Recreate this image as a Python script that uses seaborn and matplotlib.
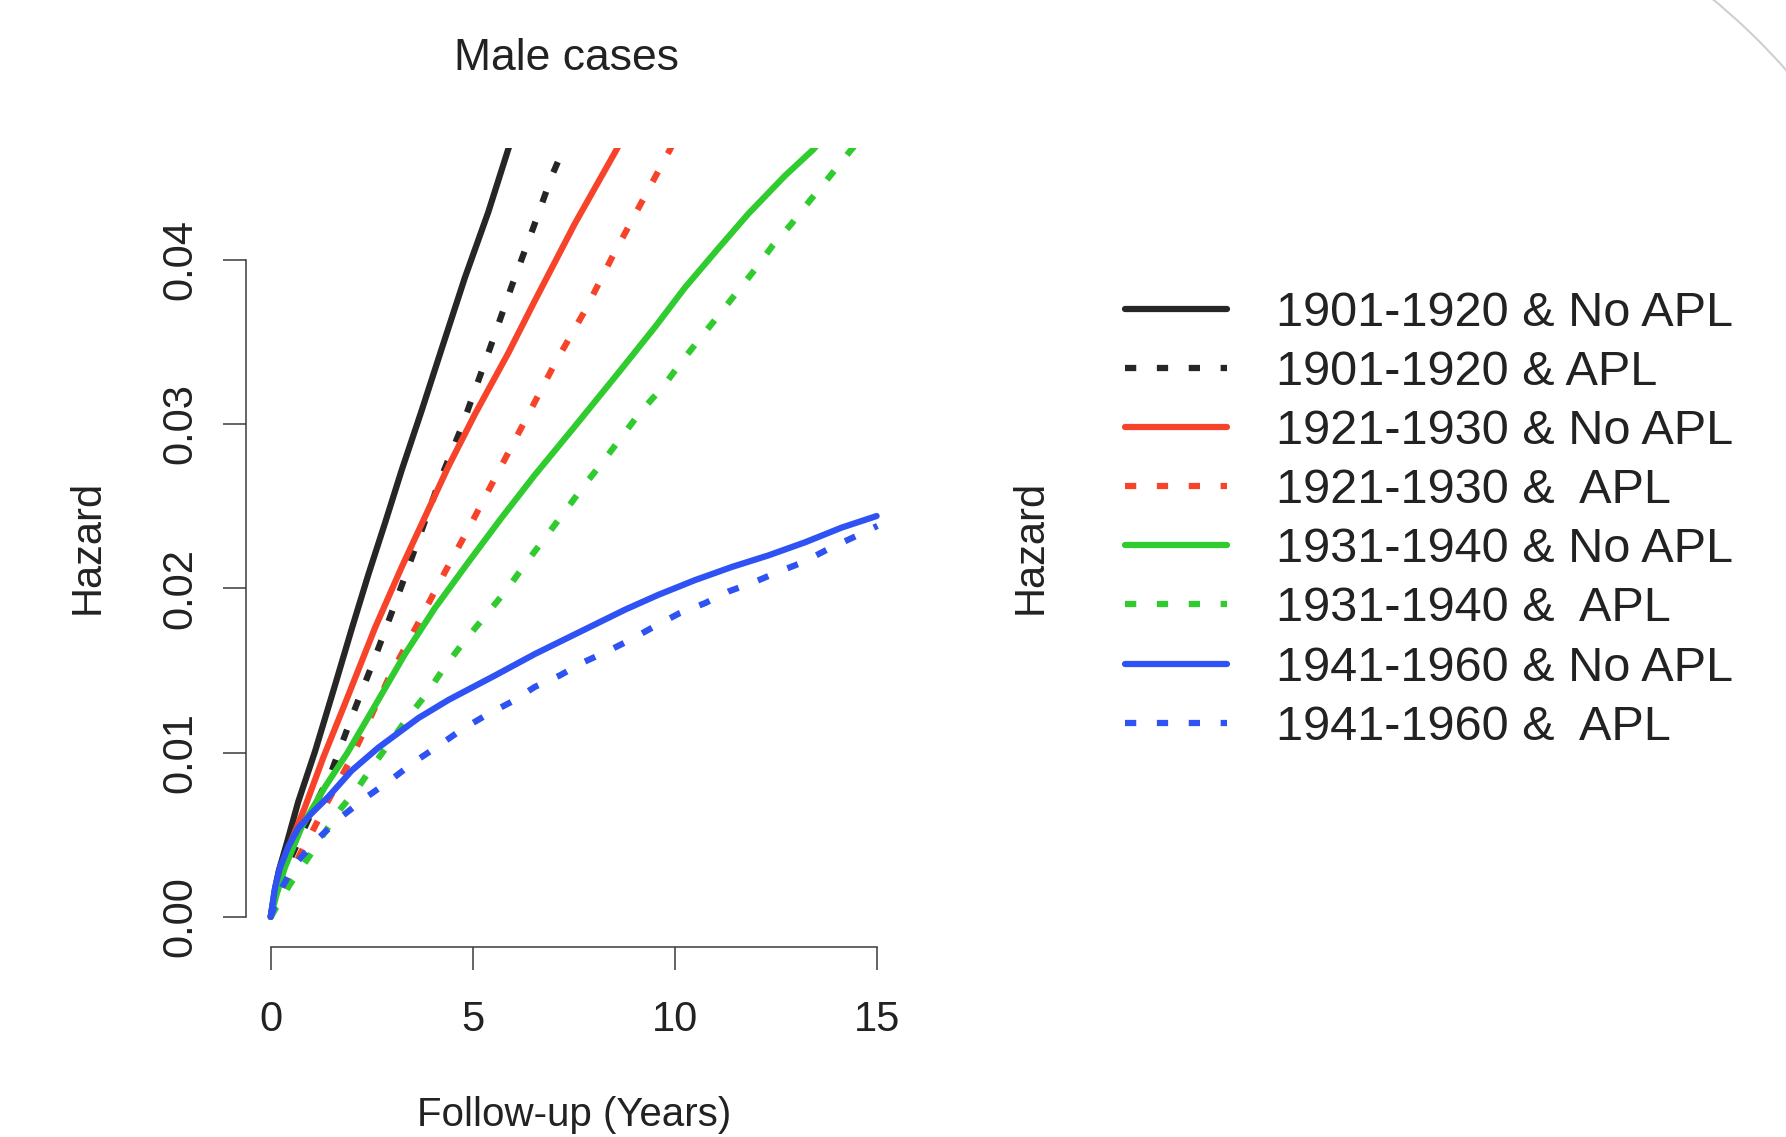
import matplotlib
matplotlib.use("Agg")
import matplotlib.pyplot as plt
from matplotlib.patches import Arc
import seaborn as sns

# cumulative hazard curves (years, hazard)
t_1901_no = [0, 0.1, 0.2, 0.4, 0.68, 1.1, 1.59, 2.0, 2.41, 2.83, 3.24, 3.73, 4.23, 4.8, 5.38, 5.87, 6.1]
h_1901_no = [0, 0.0016, 0.0028, 0.0045, 0.0070, 0.0101, 0.0141, 0.0175, 0.0208, 0.0240, 0.0272, 0.0308,
             0.0346, 0.0389, 0.0429, 0.0467, 0.0484]

t_1901_apl = [0, 0.2, 0.5, 1.0, 1.51, 2.04, 2.58, 3.11, 3.61, 4.14, 4.72, 5.42, 5.96, 6.5, 6.95, 7.23, 7.5]
h_1901_apl = [0, 0.0017, 0.0036, 0.0063, 0.0089, 0.0124, 0.0158, 0.0193, 0.0227, 0.0263, 0.0298, 0.0346,
              0.0384, 0.0420, 0.0451, 0.0467, 0.0485]

t_1921_no = [0, 0.2, 0.52, 0.85, 1.3, 1.84, 2.58, 3.24, 3.9, 4.39, 5.05, 5.87, 6.53, 7.52, 8.55, 8.8]
h_1921_no = [0, 0.0025, 0.0047, 0.0067, 0.0097, 0.0130, 0.0176, 0.0213, 0.0248, 0.0274, 0.0306, 0.0343,
             0.0375, 0.0422, 0.0467, 0.0479]

t_1921_apl = [0, 0.35, 0.72, 1.01, 1.34, 1.96, 2.29, 2.91, 3.65, 4.31, 4.97, 5.67, 6.33, 7.03, 7.77, 8.43,
              9.17, 9.87, 10.1]
h_1921_apl = [0, 0.0017, 0.0038, 0.0051, 0.0067, 0.0095, 0.0112, 0.0145, 0.0179, 0.0210, 0.0240, 0.0273,
              0.0304, 0.0337, 0.0369, 0.0401, 0.0435, 0.0467, 0.0478]

t_1931_no = [0, 0.15, 0.35, 0.77, 1.34, 1.9, 2.66, 3.32, 4.06, 4.89, 5.71, 6.53, 7.5, 8.59, 9.5, 10.24,
             11.07, 11.81, 12.71, 13.41, 13.7]
h_1931_no = [0, 0.0014, 0.0030, 0.0055, 0.0079, 0.0100, 0.0132, 0.0160, 0.0188, 0.0216, 0.0243, 0.0269,
             0.0298, 0.0331, 0.0359, 0.0383, 0.0407, 0.0428, 0.0451, 0.0467, 0.0475]

t_1931_apl = [0, 0.48, 0.93, 1.30, 1.67, 2.17, 2.50, 3.38, 3.86, 4.27, 4.76, 5.30, 5.83, 6.33, 6.82, 7.28,
              7.73, 8.18, 8.64, 9.13, 9.71, 10.16, 10.61, 11.07, 11.52, 11.97, 12.39, 12.88, 13.33, 13.83,
              14.32, 14.6]
h_1931_apl = [0, 0.0020, 0.0036, 0.0050, 0.0064, 0.0079, 0.0091, 0.0121, 0.0136, 0.0151, 0.0167, 0.0183,
              0.0199, 0.0216, 0.0232, 0.0247, 0.0262, 0.0276, 0.0291, 0.0307, 0.0323, 0.0338, 0.0352,
              0.0366, 0.0380, 0.0394, 0.0408, 0.0422, 0.0436, 0.0451, 0.0466, 0.0474]

t_1941_no = [0, 0.11, 0.23, 0.44, 0.68, 1.01, 1.42, 2.0, 2.66, 2.99, 3.65, 4.39, 5.55, 6.53, 7.52, 8.76,
             9.58, 10.49, 11.40, 12.30, 13.21, 14.12, 14.98]
h_1941_no = [0, 0.0018, 0.0030, 0.0043, 0.0054, 0.0063, 0.0073, 0.0089, 0.0103, 0.0109, 0.0121, 0.0132,
             0.0147, 0.0160, 0.0172, 0.0187, 0.0196, 0.0205, 0.0213, 0.0220, 0.0228, 0.0237, 0.0244]

t_1941_apl = [0, 0.19, 0.60, 1.14, 1.75, 2.37, 2.95, 3.53, 4.14, 4.72, 5.34, 5.96, 6.53, 7.15, 7.73, 8.35,
              8.92, 9.50, 10.12, 10.74, 11.31, 11.97, 12.55, 13.17, 13.79, 14.49, 15.0]
h_1941_apl = [0, 0.0014, 0.0032, 0.0047, 0.0061, 0.0073, 0.0083, 0.0094, 0.0104, 0.0114, 0.0123, 0.0131,
              0.0140, 0.0147, 0.0155, 0.0162, 0.0169, 0.0177, 0.0185, 0.0191, 0.0198, 0.0204, 0.0210,
              0.0216, 0.0224, 0.0232, 0.0238]

labels = ["1901-1920 & No APL", "1901-1920 & APL", "1921-1930 & No APL", "1921-1930 &  APL",
          "1931-1940 & No APL", "1931-1940 &  APL", "1941-1960 & No APL", "1941-1960 &  APL"]
curves = [(t_1901_no, h_1901_no), (t_1901_apl, h_1901_apl), (t_1921_no, h_1921_no),
          (t_1921_apl, h_1921_apl), (t_1931_no, h_1931_no), (t_1931_apl, h_1931_apl),
          (t_1941_no, h_1941_no), (t_1941_apl, h_1941_apl)]
colors = ["#262626", "#262626", "#F8432B", "#F8432B", "#2FCB2F", "#2FCB2F", "#2F52F5", "#2F52F5"]
dotted = [False, True] * 4

x_ticks = [0, 5, 10, 15]
y_ticks = [0.00, 0.01, 0.02, 0.03, 0.04]
y_ticklabels = ["0.00", "0.01", "0.02", "0.03", "0.04"]

sns.set_theme(style="white")
plt.rcParams["font.family"] = ["Liberation Sans", "DejaVu Sans"]
txt = "#222222"
axcol = "#3a3a3a"

W, H = 1786, 1137
fig = plt.figure(figsize=(W / 100, H / 100), dpi=100)
ax = fig.add_axes([246.4 / W, 1 - 946.5 / H, 655.3 / W, 798.5 / H])

for (t, h), lab, col, dot in zip(curves, labels, colors, dotted):
    ls = (0, (1.8, 3.3)) if dot else "-"
    sns.lineplot(x=t, y=h, ax=ax, color=col, lw=4.5, linestyle=ls, label=lab,
                 sort=False, estimator=None)

handles, labs = ax.get_legend_handles_labels()
if ax.get_legend() is not None:
    ax.get_legend().remove()

ax.set_xlim(-0.6, 15.6)
ax.set_ylim(-0.0018, 0.0468)
ax.spines[["top", "right"]].set_visible(False)
ax.spines["left"].set_bounds(0, 0.04)
ax.spines["bottom"].set_bounds(0, 15)
for s in ["left", "bottom"]:
    ax.spines[s].set_color(axcol)
    ax.spines[s].set_linewidth(1.1)
ax.set_xticks(x_ticks)
ax.set_xticklabels([str(v) for v in x_ticks])
ax.set_yticks(y_ticks)
ax.set_yticklabels(y_ticklabels, rotation=90, va="center")
ax.tick_params(axis="both", direction="out", length=16.3, width=1.1, color=axcol,
               labelsize=30, labelcolor=txt, left=True, bottom=True)
ax.tick_params(axis="x", pad=22)
ax.tick_params(axis="y", pad=17)

ax.set_title("Male cases", fontsize=32, color=txt, x=0.489, pad=56)
ax.set_xlabel("Follow-up (Years)", fontsize=29, color=txt)
ax.xaxis.set_label_coords(0.5, -0.1875)
ax.set_ylabel("Hazard", fontsize=30, color=txt)
ax.yaxis.set_label_coords(-0.212, 0.5)

# empty right panel: only its axis label and the legend
fig.text(1031 / W, 1 - 547 / H, "Hazard", rotation=90, ha="center", va="center",
         fontsize=30, color=txt)
fig.legend(handles, labs, loc="upper left", bbox_to_anchor=(1125 / W, 1 - 291 / H),
           frameon=False, fontsize=35, handlelength=2.1, handletextpad=1.0,
           labelspacing=0.29, borderpad=0, borderaxespad=0, labelcolor=txt)

# faint arc in the top right corner of the screenshot
fig.add_artist(Arc((13.0, 6.37), 12.98, 12.98, theta1=36, theta2=56,
                   transform=fig.dpi_scale_trans, color="#cfcfcf", lw=1.5))

fig.savefig("out.png", dpi=100)
